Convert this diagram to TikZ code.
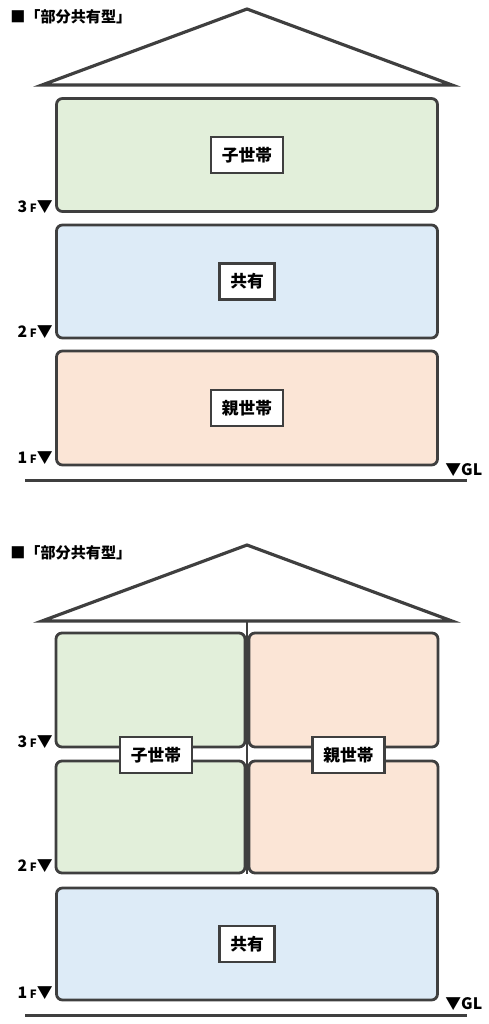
\documentclass[tikz,border=0pt]{standalone}
\usepackage{fontspec}
\usepackage{tikz}
\usetikzlibrary{positioning}
\newfontfamily\jpfont{Noto Sans CJK JP}
\definecolor{palInk}{HTML}{3F3F3F}
\definecolor{palGreenLt}{HTML}{E2EFDA}
\definecolor{palBlueLt}{HTML}{DDEBF7}
\definecolor{palPeachLt}{HTML}{FBE5D6}
\tikzset{
  roomnode/.style={draw=palInk, line width=1.6pt, rounded corners=1.2mm,
                   inner sep=0pt},
  tagnode/.style={draw=palInk, fill=white, line width=1.6pt,
                  font=\jpfont\bfseries\fontsize{9.5pt}{11pt}\selectfont,
                  inner xsep=2.2mm, inner ysep=0pt, minimum height=7.2mm},
  floornode/.style={font=\jpfont\bfseries\fontsize{9pt}{10pt}\selectfont,
                    anchor=base east, inner sep=0pt},
  titlenode/.style={font=\jpfont\bfseries\fontsize{8.6pt}{10pt}\selectfont,
                    anchor=west, inner sep=0pt},
  roofline/.style={draw=palInk, line width=1.8pt, line join=miter},
  groundline/.style={draw=palInk, line width=1.7pt},
}
\newcommand\flrtag[1]{#1\,{\fontsize{6.5pt}{7pt}\selectfont F}▼}

\begin{document}
\begin{tikzpicture}[x=0.2mm, y=-0.2mm]
\useasboundingbox (0,0) rectangle (489,1024);
\def\xMid{247}      % x-position of the ridge
\def\xFloor{53}     % right end of floor tags
\def\xGL{445}       % left end of GL tag

%% Upper house
\node[titlenode] (title1) at (10,17) {■「部分共有型」};
\draw[roofline] (42,85) -- (\xMid,9) -- (452,85) -- cycle;
\node[roomnode, fill=palGreenLt, minimum width=76.2mm, minimum height=22.6mm]
  (kids1) at (\xMid,155) {};
\node[roomnode, fill=palBlueLt, minimum width=76.2mm, minimum height=22.6mm]
  (share1) at (\xMid,281.5) {};
\node[roomnode, fill=palPeachLt, minimum width=76.2mm, minimum height=22.8mm]
  (parent1) at (\xMid,408) {};
\node[tagnode] (kidstag1) at (kids1) {子世帯};
\node[tagnode] (sharetag1) at (share1) {共有};
\node[tagnode] (parenttag1) at (parent1) {親世帯};
\node[floornode] (f3a) at (\xFloor,212) {\flrtag{3}};
\node[floornode] (f2a) at (\xFloor,337) {\flrtag{2}};
\node[floornode] (f1a) at (\xFloor,463) {\flrtag{1}};
\draw[groundline] (25,480) -- (467,480);
\node[floornode, anchor=base west] (gl1) at (\xGL,475) {▼GL};

%% Lower house
\node[titlenode] (title2) at (10,553) {■「部分共有型」};
\draw[roofline] (42,621) -- (\xMid,545) -- (452,621) -- cycle;
\node[roomnode, fill=palGreenLt, minimum width=37.8mm, minimum height=22.8mm]
  (kids2a) at (150.5,690) {};
\node[roomnode, fill=palPeachLt, minimum width=37.8mm, minimum height=22.8mm]
  (parent2a) at (343.5,690) {};
\node[roomnode, fill=palGreenLt, minimum width=37.8mm, minimum height=22.4mm]
  (kids2b) at (150.5,817) {};
\node[roomnode, fill=palPeachLt, minimum width=37.8mm, minimum height=22.4mm]
  (parent2b) at (343.5,817) {};
\node[roomnode, fill=palBlueLt, minimum width=76.2mm, minimum height=22.4mm]
  (share2) at (\xMid,944) {};
\coordinate (ridge2) at (\xMid,621);
\draw[draw=palInk, line width=1.6pt] (ridge2) -- (ridge2 |- kids2b.south);
\node[tagnode] (kidstag2) at (156,755) {子世帯};
\node[tagnode] (parenttag2) at (348.5,755) {親世帯};
\node[tagnode] (sharetag2) at (share2) {共有};
\node[floornode] (f3b) at (\xFloor,747) {\flrtag{3}};
\node[floornode] (f2b) at (\xFloor,871) {\flrtag{2}};
\node[floornode] (f1b) at (\xFloor,998) {\flrtag{1}};
\draw[groundline] (25,1015) -- (467,1015);
\node[floornode, anchor=base west] (gl2) at (\xGL,1009) {▼GL};
\end{tikzpicture}
\end{document}
